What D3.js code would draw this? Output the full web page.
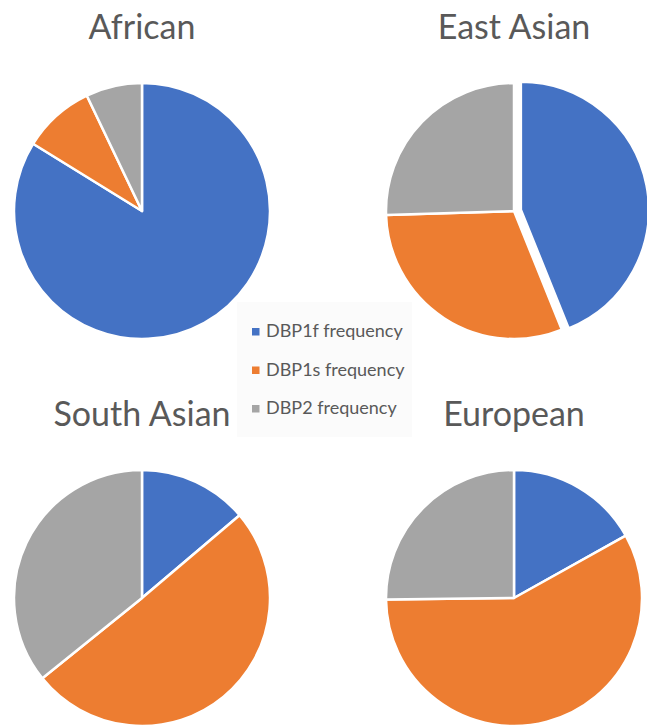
<!DOCTYPE html>
<html>
<head>
<meta charset="utf-8">
<script src="https://cdn.jsdelivr.net/npm/d3@7"></script>
<style>
  html, body { margin: 0; padding: 0; background: #ffffff; }
  svg { display: block; }
  text { font-family: Lato, "Open Sans", sans-serif; fill: #595959; }
</style>
</head>
<body>
<svg id="chart" width="647" height="726"></svg>
<script>
// Population groups, one pie each
const groups = ["African", "East Asian", "South Asian", "European"];
// Allele series shown in every pie
const series = ["DBP1f frequency", "DBP1s frequency", "DBP2 frequency"];
// Allele frequency per group, in the order of `groups`
const dbp1f = [0.838, 0.439, 0.138, 0.169];
const dbp1s = [0.091, 0.306, 0.504, 0.579];
const dbp2  = [0.071, 0.255, 0.358, 0.252];
// Slice pulled out of its pie: [group index, series index]
const exploded = [[1, 0]];

const colors = ["#4472C4", "#ED7D31", "#A5A5A5"];

const svg = d3.select("#chart");
const W = 647, H = 726;
const radius = 128;

// 2 x 2 grid of pies
const col = d3.scalePoint().domain([0, 1]).range([142, 514]);
const row = d3.scalePoint().domain([0, 1]).range([211, 598]);
const titleY = [39, 426];

const color = d3.scaleOrdinal().domain(series).range(colors);
const pie = d3.pie().sort(null).value(d => d.value);
const arc = d3.arc().innerRadius(0).outerRadius(radius);

// Legend panel (drawn first so the pies sit above it)
const legend = svg.append("g").attr("class", "legend");
legend.append("rect")
  .attr("x", 237).attr("y", 302).attr("width", 175).attr("height", 135)
  .attr("fill", "#fbfbfb");

groups.forEach((g, i) => {
  const cx = col(i % 2), cy = row(Math.floor(i / 2));
  const rows = series.map((s, k) => ({
    key: s,
    value: [dbp1f, dbp1s, dbp2][k][i]
  }));
  const gp = svg.append("g").attr("transform", `translate(${cx},${cy})`);
  gp.selectAll("path")
    .data(pie(rows))
    .join("path")
    .attr("d", arc)
    .attr("fill", d => color(d.data.key))
    .attr("stroke", "#ffffff")
    .attr("stroke-width", 2.5)
    .attr("stroke-linejoin", "round")
    .attr("transform", (d, k) => {
      const out = exploded.some(e => e[0] === i && e[1] === k);
      if (!out) return null;
      const a = (d.startAngle + d.endAngle) / 2;
      const off = 7;
      return `translate(${off * Math.sin(a)},${-off * Math.cos(a)})`;
    });

  svg.append("text")
    .attr("x", cx)
    .attr("y", titleY[Math.floor(i / 2)])
    .attr("text-anchor", "middle")
    .attr("font-size", 34)
    .text(g);
});

const items = legend.selectAll("g.item")
  .data(series)
  .join("g")
  .attr("class", "item")
  .attr("transform", (d, k) => `translate(252,${337 + k * 38.5})`);
items.append("rect")
  .attr("x", 0).attr("y", -9).attr("width", 7.5).attr("height", 7.5)
  .attr("fill", d => color(d));
items.append("text")
  .attr("x", 14).attr("y", 0)
  .attr("font-size", 18)
  .text(d => d);
</script>
</body>
</html>
